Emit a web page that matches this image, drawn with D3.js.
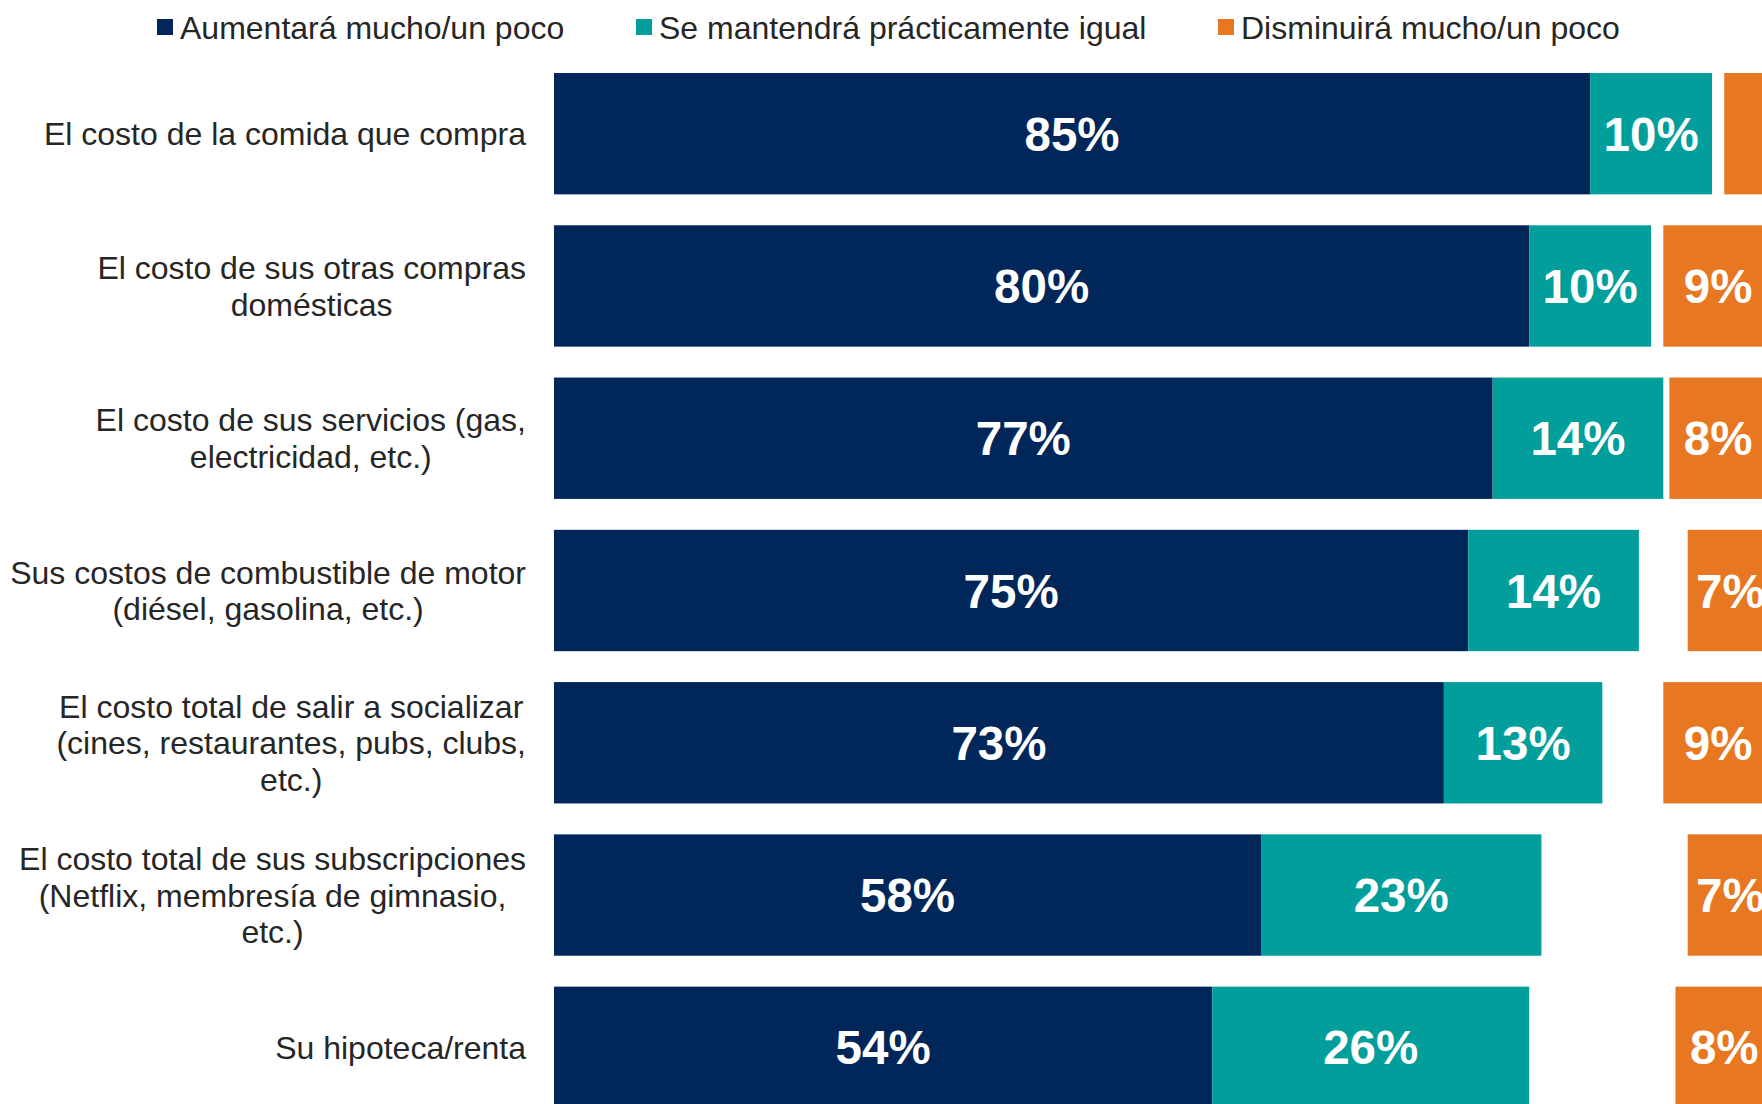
<!DOCTYPE html>
<html><head><meta charset="utf-8">
<script src="https://cdn.jsdelivr.net/npm/d3@7"></script>
<style>
body{margin:0;background:#fff;overflow:hidden;}
svg{display:block;font-family:"Liberation Sans",Arial,sans-serif;}
</style>
</head><body>
<svg id="chart" width="1762" height="1104"></svg>
<script>
// ---- data ----
const categories = [
  "El costo de la comida que compra",
  "El costo de sus otras compras|domésticas",
  "El costo de sus servicios (gas,|electricidad, etc.)",
  "Sus costos de combustible de motor|(diésel, gasolina, etc.)",
  "El costo total de salir a socializar|(cines, restaurantes, pubs, clubs,|etc.)",
  "El costo total de sus subscripciones|(Netflix, membresía de gimnasio,|etc.)",
  "Su hipoteca/renta"
];
const aumentara  = [85, 80, 77, 75, 73, 58, 54];
const igual      = [10, 10, 14, 14, 13, 23, 26];
const noSabe     = [1, 1, 0.5, 4, 5, 12, 12];   // unlabelled, not drawn
const disminuira = [4, 9, 8, 7, 9, 7, 8];
const seriesKeys = ["aumentara", "igual", "noSabe", "disminuira"];
const legendLabels = ["Aumentará mucho/un poco", "Se mantendrá prácticamente igual", "Disminuirá mucho/un poco"];
const colors = {aumentara: "#00265a", igual: "#029e9b", noSabe: "none", disminuira: "#e87722"};

// ---- layout ----
const svg = d3.select("#chart");
const rows = categories.map((c, i) => ({
  cat: c, aumentara: aumentara[i], igual: igual[i], noSabe: noSabe[i], disminuira: disminuira[i]
}));
const stacked = d3.stack().keys(seriesKeys)(rows);

const x = d3.scaleLinear().domain([0, 100]).range([554, 1773]);
const y = d3.scaleBand().domain(categories).range([73, 1108]).paddingInner(0.203).paddingOuter(0);

// bars
const g = svg.append("g");
stacked.forEach(layer => {
  if (layer.key === "noSabe") return;
  g.selectAll(null).data(layer).join("rect")
    .attr("x", d => x(d[0]))
    .attr("y", d => y(d.data.cat))
    .attr("width", d => x(d[1]) - x(d[0]))
    .attr("height", y.bandwidth())
    .attr("fill", colors[layer.key]);
  g.selectAll(null).data(layer.filter(d => d[1] - d[0] >= 5)).join("text")
    .attr("x", d => (x(d[0]) + x(d[1])) / 2)
    .attr("y", d => y(d.data.cat) + y.bandwidth() / 2)
    .attr("dy", "0.36em")
    .attr("text-anchor", "middle")
    .attr("fill", "#fff")
    .attr("font-weight", "bold")
    .attr("font-size", 47.5)
    .text(d => Math.round(d[1] - d[0]) + "%");
});

// category labels (multi-line, centred block, right edge at 526)
const fs = 32, lh = 36.5, rightEdge = 526;
categories.forEach(c => {
  const lines = c.split("|");
  const t = svg.append("text")
    .attr("font-size", fs)
    .attr("fill", "#262626")
    .attr("text-anchor", "middle");
  const cy = y(c) + y.bandwidth() / 2;
  lines.forEach((ln, i) => {
    t.append("tspan")
      .attr("y", cy + (i - (lines.length - 1) / 2) * lh)
      .attr("dy", "0.36em")
      .text(ln);
  });
  let w = 0;
  t.selectAll("tspan").each(function(){ w = Math.max(w, this.getComputedTextLength()); });
  t.selectAll("tspan").attr("x", rightEdge - w / 2);
});

// legend
const legendX = [157, 636, 1218];
const legendKeys = ["aumentara", "igual", "disminuira"];
legendKeys.forEach((k, i) => {
  const lg = svg.append("g").attr("transform", `translate(${legendX[i]},27)`);
  lg.append("rect").attr("x", 0).attr("y", -8).attr("width", 16).attr("height", 16).attr("fill", colors[k]);
  lg.append("text").attr("x", 23).attr("y", 0).attr("dy", "0.36em")
    .attr("font-size", fs).attr("fill", "#262626").text(legendLabels[i]);
});
</script>
</body></html>
